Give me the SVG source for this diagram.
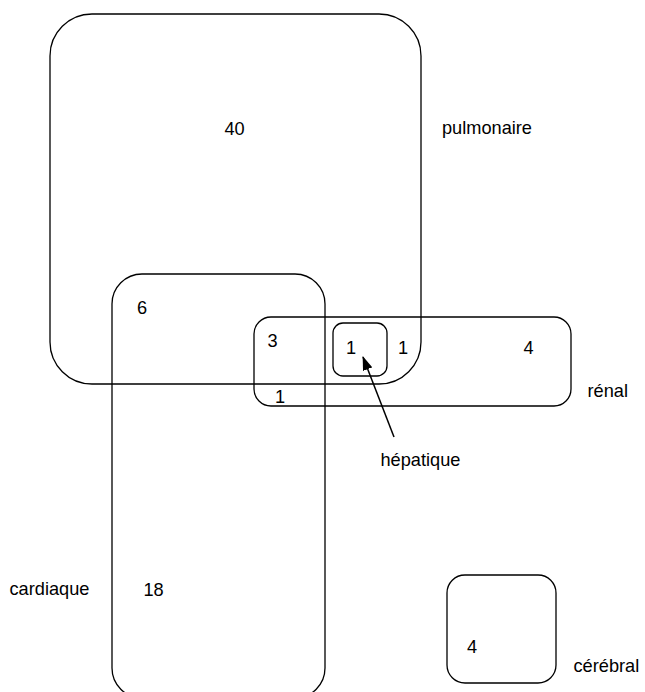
<svg xmlns="http://www.w3.org/2000/svg" width="645" height="692" viewBox="0 0 645 692">
<style>
.box{fill:none;stroke:#000;stroke-width:1.3}
.t{font-family:"Liberation Sans",Arial,sans-serif;font-size:18.2px;fill:#000}
.n{text-anchor:middle}
</style>
<defs>
<marker id="ah" markerUnits="userSpaceOnUse" markerWidth="14" markerHeight="10" refX="13" refY="5" orient="auto">
<path d="M0,0 L14,5 L0,10 z" fill="#000"/>
</marker>
</defs>
<rect width="645" height="692" fill="#fff"/>
<g id="pulmonaire">
<rect class="box" x="50" y="14" width="371" height="370" rx="42" ry="42"/>
<text class="t n" x="234.5" y="135">40</text>
<text class="t" x="442" y="134">pulmonaire</text>
</g>
<g id="cardiaque">
<rect class="box" x="112" y="274" width="213" height="424" rx="30" ry="30"/>
<text class="t n" x="142" y="314">6</text>
<text class="t n" x="153.5" y="596">18</text>
<text class="t" x="9.5" y="595">cardiaque</text>
</g>
<g id="renal">
<rect class="box" x="254" y="317" width="317" height="89" rx="17" ry="17"/>
<text class="t n" x="272.5" y="347">3</text>
<text class="t n" x="403" y="354">1</text>
<text class="t n" x="528.5" y="354">4</text>
<text class="t n" x="280" y="403">1</text>
<text class="t" x="587.5" y="397">rénal</text>
</g>
<g id="hepatique">
<rect class="box" x="333" y="323" width="54" height="53" rx="10" ry="10"/>
<text class="t n" x="351" y="354">1</text>
<text class="t" x="380.5" y="466">hépatique</text>
</g>
<g id="cerebral">
<rect class="box" x="447" y="575" width="109" height="108" rx="18" ry="18"/>
<text class="t n" x="472" y="653">4</text>
<text class="t" x="573.5" y="672">cérébral</text>
</g>
<g id="connectors">
<line x1="394" y1="437" x2="363" y2="357" stroke="#000" stroke-width="1.5" marker-end="url(#ah)"/>
</g>
</svg>
